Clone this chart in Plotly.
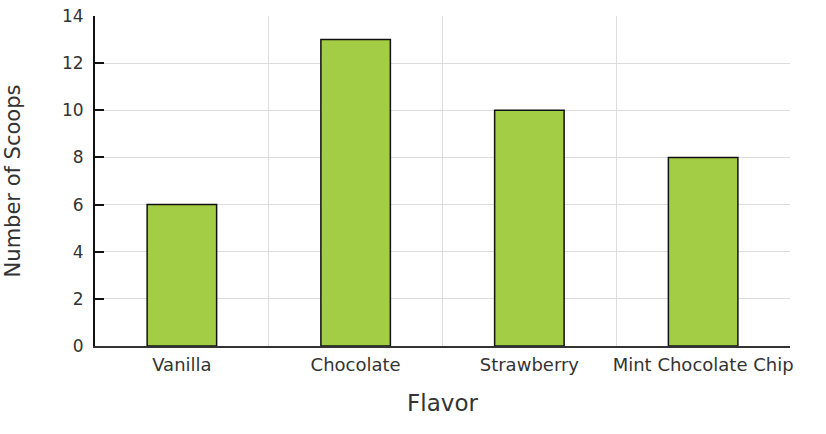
import plotly.graph_objects as go

# Scoops sold per flavor
flavors = ["Vanilla", "Chocolate", "Strawberry", "Mint Chocolate Chip"]
scoops = [6, 13, 10, 8]
y_ticks = [0, 2, 4, 6, 8, 10, 12, 14]

font = "DejaVu Sans, Verdana, sans-serif"

fig = go.Figure(go.Bar(
    x=flavors,
    y=scoops,
    width=0.4,
    marker=dict(color="#a3cd45", line=dict(color="#111111", width=1.5)),
))

fig.update_layout(
    width=826,
    height=434,
    margin=dict(l=95, r=36, t=16, b=88),
    plot_bgcolor="white",
    paper_bgcolor="white",
    showlegend=False,
    font=dict(family=font, size=16, color="#333333"),
)

fig.update_xaxes(
    title=dict(text="Flavor", font=dict(size=23, color="#333333"), standoff=21),
    tickson="boundaries",
    showgrid=True,
    gridcolor="#dddddd",
    gridwidth=1,
    showline=True,
    linecolor="#333333",
    linewidth=2,
    ticks="",
    tickangle=0,
    ticklabelstandoff=1,
    tickfont=dict(size=18),
    automargin=False,
)

fig.update_yaxes(
    title=dict(text="Number of Scoops", font=dict(size=21, color="#333333"), standoff=36),
    range=[0, 14],
    tickvals=y_ticks,
    showgrid=True,
    gridcolor="#dddddd",
    gridwidth=1,
    showline=True,
    linecolor="#111111",
    linewidth=2,
    ticks="inside",
    ticklen=9,
    tickcolor="#111111",
    tickwidth=1.5,
    ticklabelstandoff=6,
    ticklabeloverflow="allow",
    zeroline=False,
    tickfont=dict(size=17),
    automargin=False,
)

# drop the default body margin so the figure sits at the page corner
fig.write_html(
    "out.html",
    config={"displayModeBar": False},
    post_script="document.body.style.margin='0';",
)
